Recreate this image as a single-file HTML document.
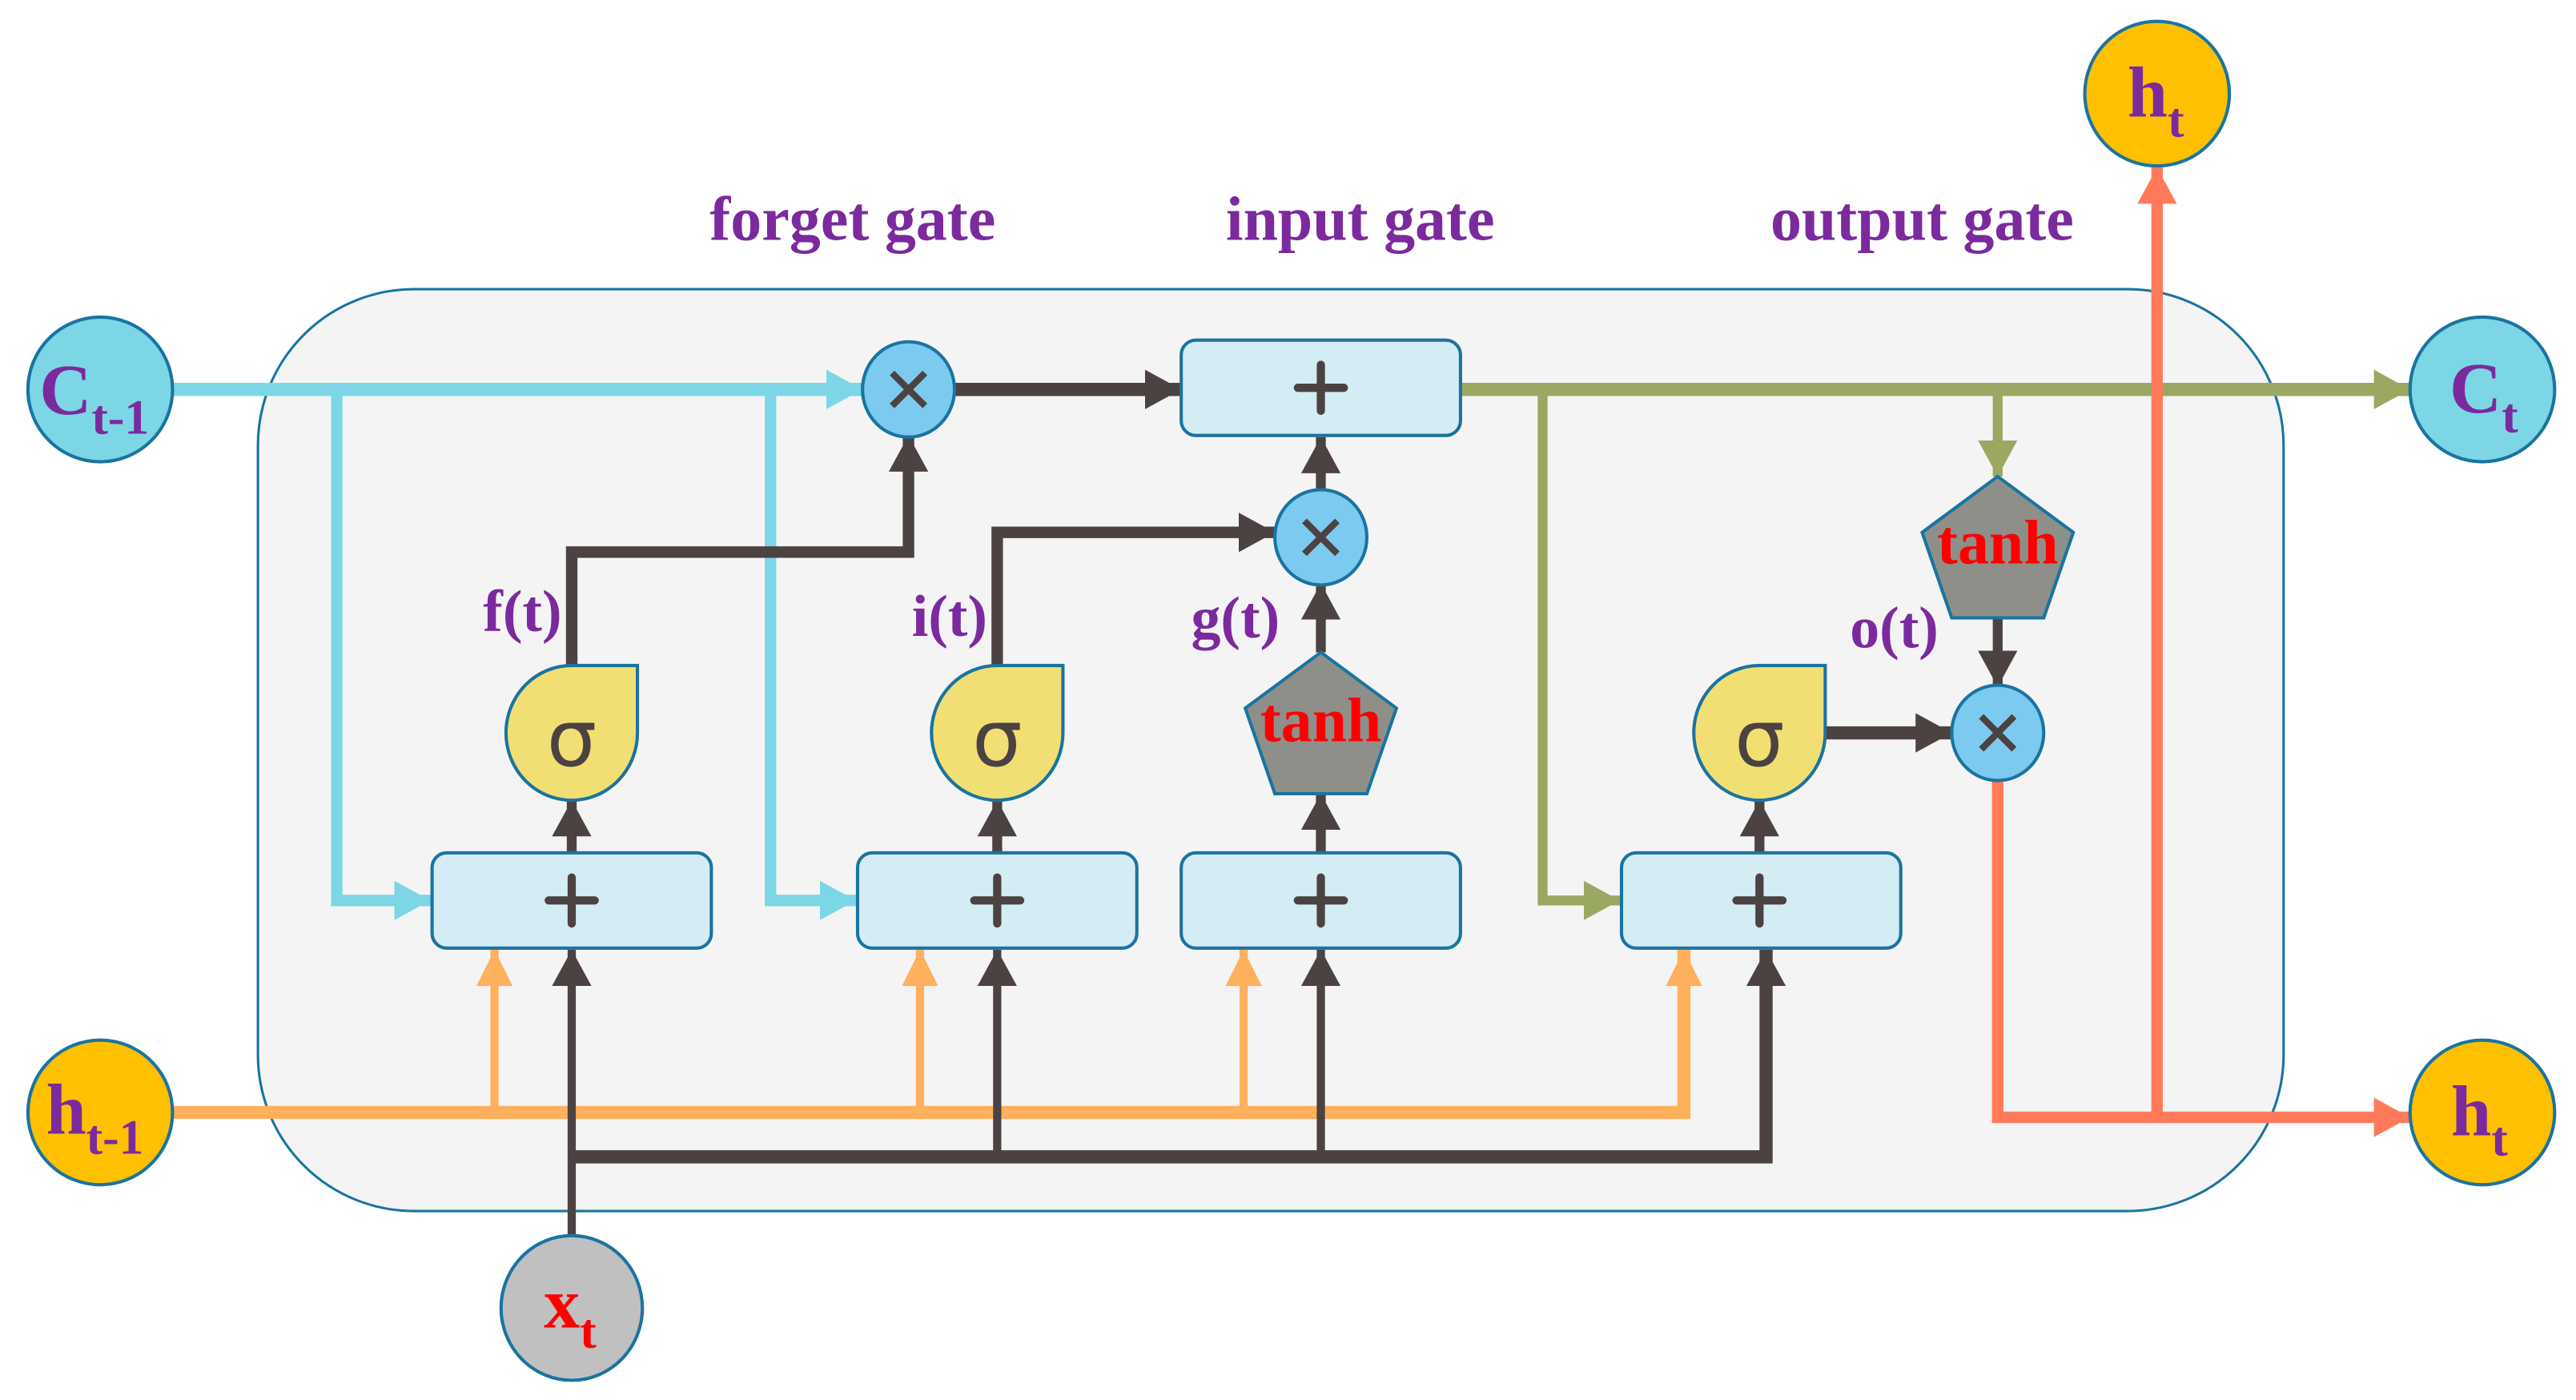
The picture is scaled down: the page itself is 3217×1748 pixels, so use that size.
<!DOCTYPE html>
<html><head><meta charset="utf-8"><style>
html,body{margin:0;padding:0;background:#fff}
svg{display:block}
</style></head><body>
<svg width="3217" height="1748" viewBox="0 0 1568 852" xmlns="http://www.w3.org/2000/svg" font-family="'Liberation Serif', 'DejaVu Serif', serif" font-weight="bold">
<defs>
<marker id="ac" markerUnits="userSpaceOnUse" markerWidth="24" markerHeight="24" refX="22" refY="12" orient="auto"><path d="M0,0 L22,12 L0,24 Z" fill="#7dd6e6"/></marker>
<marker id="ad" markerUnits="userSpaceOnUse" markerWidth="24" markerHeight="24" refX="22" refY="12" orient="auto"><path d="M0,0 L22,12 L0,24 Z" fill="#4b4241"/></marker>
<marker id="ao" markerUnits="userSpaceOnUse" markerWidth="24" markerHeight="24" refX="22" refY="12" orient="auto"><path d="M0,1 L22,12 L0,23 Z" fill="#ffb05c"/></marker>
<marker id="ag" markerUnits="userSpaceOnUse" markerWidth="24" markerHeight="24" refX="22" refY="12" orient="auto"><path d="M0,0 L22,12 L0,24 Z" fill="#9aa862"/></marker>
<marker id="ar" markerUnits="userSpaceOnUse" markerWidth="24" markerHeight="24" refX="22" refY="12" orient="auto"><path d="M0,0 L22,12 L0,24 Z" fill="#ff7a5a"/></marker>
</defs>
<rect x="157" y="176" width="1233" height="561" rx="95" fill="#f4f4f4" stroke="#1a74a0" stroke-width="1.5"/>

<g font-size="38" fill="#7b2a9e" text-anchor="middle">
<text x="519" y="146">forget gate</text>
<text x="828" y="146">input gate</text>
<text x="1170" y="146">output gate</text>
</g>

<g fill="none" stroke-linejoin="miter">
<path d="M105,237 H525" stroke="#7dd6e6" stroke-width="8" marker-end="url(#ac)"/>
<path d="M205,237 V548 H262" stroke="#7dd6e6" stroke-width="7" marker-end="url(#ac)"/>
<path d="M469,237 V548 H521" stroke="#7dd6e6" stroke-width="7" marker-end="url(#ac)"/>
<path d="M105,677 H1025 V578" stroke="#ffb05c" stroke-width="8" marker-end="url(#ao)"/>
<path d="M301,677 V578" stroke="#ffb05c" stroke-width="5" marker-end="url(#ao)"/>
<path d="M560,677 V578" stroke="#ffb05c" stroke-width="5" marker-end="url(#ao)"/>
<path d="M757,677 V578" stroke="#ffb05c" stroke-width="5" marker-end="url(#ao)"/>
<path d="M348,752 V578" stroke="#4b4241" stroke-width="5" marker-end="url(#ad)"/>
<path d="M348,704 H1075 V578" stroke="#4b4241" stroke-width="8" marker-end="url(#ad)"/>
<path d="M607,704 V578" stroke="#4b4241" stroke-width="5" marker-end="url(#ad)"/>
<path d="M804,704 V578" stroke="#4b4241" stroke-width="5" marker-end="url(#ad)"/>
<path d="M348,519 V487" stroke="#4b4241" stroke-width="6" marker-end="url(#ad)"/>
<path d="M607,519 V487" stroke="#4b4241" stroke-width="6" marker-end="url(#ad)"/>
<path d="M804,519 V483" stroke="#4b4241" stroke-width="6" marker-end="url(#ad)"/>
<path d="M1071,519 V487" stroke="#4b4241" stroke-width="6" marker-end="url(#ad)"/>
<path d="M348,405 V336 H553 V265" stroke="#4b4241" stroke-width="7" marker-end="url(#ad)"/>
<path d="M607,405 V324 H776" stroke="#4b4241" stroke-width="7" marker-end="url(#ad)"/>
<path d="M804,397 V355" stroke="#4b4241" stroke-width="6" marker-end="url(#ad)"/>
<path d="M804,299 V266" stroke="#4b4241" stroke-width="6" marker-end="url(#ad)"/>
<path d="M581,237 H719" stroke="#4b4241" stroke-width="8" marker-end="url(#ad)"/>
<path d="M889,237 H1467" stroke="#9aa862" stroke-width="8" marker-end="url(#ag)"/>
<path d="M939,237 V548 H986" stroke="#9aa862" stroke-width="6" marker-end="url(#ag)"/>
<path d="M1216,237 V290" stroke="#9aa862" stroke-width="6" marker-end="url(#ag)"/>
<path d="M1216,375 V418" stroke="#4b4241" stroke-width="6" marker-end="url(#ad)"/>
<path d="M1111,446 H1188" stroke="#4b4241" stroke-width="8" marker-end="url(#ad)"/>
<path d="M1216,474 V680 H1467" stroke="#ff7a5a" stroke-width="7" marker-end="url(#ar)"/>
<path d="M1313,680 V102" stroke="#ff7a5a" stroke-width="7" marker-end="url(#ar)"/>
</g>

<g fill="#d4ecf3" stroke="#1a74a0" stroke-width="2">
<rect x="719" y="207" width="170" height="58" rx="9"/>
<rect x="263" y="519" width="170" height="58" rx="9"/>
<rect x="522" y="519" width="170" height="58" rx="9"/>
<rect x="719" y="519" width="170" height="58" rx="9"/>
<rect x="987" y="519" width="170" height="58" rx="9"/>
</g>
<g stroke="#4b4241" stroke-width="5" stroke-linecap="round">
<path d="M804,222 V250 M790,236 H818"/>
<path d="M348,534 V562 M334,548 H362"/>
<path d="M607,534 V562 M593,548 H621"/>
<path d="M804,534 V562 M790,548 H818"/>
<path d="M1071,534 V562 M1057,548 H1085"/>
</g>

<g fill="#7ccaf0" stroke="#1a74a0" stroke-width="2">
<ellipse cx="553" cy="237" rx="28" ry="29"/>
<ellipse cx="804" cy="327" rx="28" ry="29"/>
<ellipse cx="1216" cy="446" rx="28" ry="29"/>
</g>
<g stroke="#4b4241" stroke-width="4">
<path d="M543,227 L563,247 M563,227 L543,247"/>
<path d="M794,317 L814,337 M814,317 L794,337"/>
<path d="M1206,436 L1226,456 M1226,436 L1206,456"/>
</g>

<g fill="#f2df74" stroke="#1a74a0" stroke-width="2">
<path d="M348,405 H388 V446 A40,41 0 0 1 348,487 A40,41 0 0 1 308,446 A40,41 0 0 1 348,405 Z"/>
<path d="M607,405 H647 V446 A40,41 0 0 1 607,487 A40,41 0 0 1 567,446 A40,41 0 0 1 607,405 Z"/>
<path d="M1071,405 H1111 V446 A40,41 0 0 1 1071,487 A40,41 0 0 1 1031,446 A40,41 0 0 1 1071,405 Z"/>
</g>
<g font-size="48" fill="#4b4241" text-anchor="middle" font-family="'DejaVu Sans', sans-serif" font-weight="normal">
<text x="348" y="466">σ</text>
<text x="607" y="466">σ</text>
<text x="1071" y="466">σ</text>
</g>

<polygon points="804,397 850,431 832,483 776,483 758,431" fill="#8f8f8a" stroke="#1a74a0" stroke-width="2"/>
<polygon points="1216,290 1262,324 1244,376 1188,376 1170,324" fill="#8f8f8a" stroke="#1a74a0" stroke-width="2"/>
<g font-size="38" fill="#ff0000" text-anchor="middle">
<text x="804" y="451">tanh</text>
<text x="1216" y="343">tanh</text>
</g>

<g font-size="36" fill="#7b2a9e" text-anchor="middle">
<text x="318" y="384">f(t)</text>
<text x="578" y="387">i(t)</text>
<text x="752" y="388">g(t)</text>
<text x="1153" y="394">o(t)</text>
</g>

<g stroke="#1a74a0" stroke-width="2">
<ellipse cx="61" cy="237" rx="44" ry="44" fill="#7dd6e6"/>
<ellipse cx="1511" cy="237" rx="44" ry="44" fill="#7dd6e6"/>
<ellipse cx="61" cy="677" rx="44" ry="44" fill="#ffc000"/>
<ellipse cx="1511" cy="677" rx="44" ry="44" fill="#ffc000"/>
<ellipse cx="1313" cy="57" rx="44" ry="44" fill="#ffc000"/>
<ellipse cx="348" cy="796" rx="43" ry="44" fill="#c0c0c0"/>
</g>
<g font-size="44" fill="#7b2a9e">
<text x="24" y="252">C<tspan font-size="30" dy="12">t-1</tspan></text>
<text x="1491" y="251">C<tspan font-size="30" dy="12">t</tspan></text>
<text x="28" y="690">h<tspan font-size="30" dy="12">t-1</tspan></text>
<text x="1492" y="691">h<tspan font-size="30" dy="12">t</tspan></text>
<text x="1295" y="71">h<tspan font-size="30" dy="12">t</tspan></text>
<text x="331" y="808" fill="#ff0000">x<tspan font-size="30" dy="12">t</tspan></text>
</g>
</svg>
</body></html>
